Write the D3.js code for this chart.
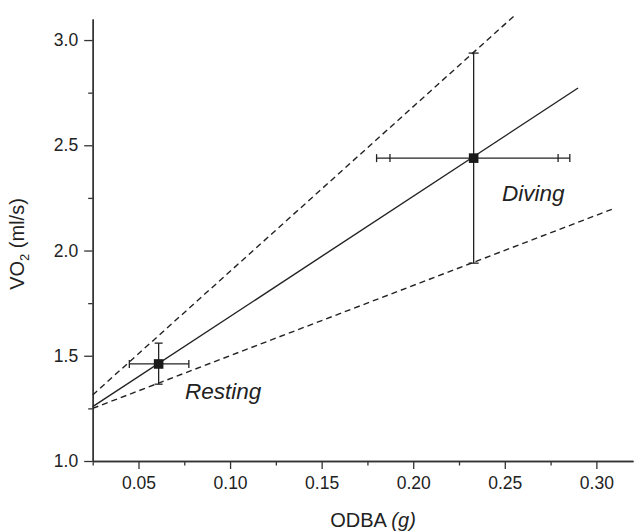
<!DOCTYPE html>
<html>
<head>
<meta charset="utf-8">
<script src="https://cdn.jsdelivr.net/npm/d3@7"></script>
<style>
body { margin: 0; background: #fff; }
svg { display: block; font-family: "Liberation Sans", Arial, sans-serif; }
</style>
</head>
<body>
<svg id="chart" width="640" height="532"></svg>
<script>
// data
var groups = ["Resting", "Diving"];
var odba = [0.061, 0.233];
var vo2 = [1.461, 2.439];
var vo2Low = [1.365, 1.94];
var vo2High = [1.56, 2.938];
var odbaLow = [0.045, 0.180];
var odbaHigh = [0.0775, 0.2855];
var odbaLowInner = [null, 0.1873];
var odbaHighInner = [null, 0.2791];

// regression line and its confidence bounds (start / end)
var fitX = [0.025, 0.29];
var fitY = [1.258, 2.772];
var upperX = [0.025, 0.2564];
var upperY = [1.314, 3.125];
var lowerX = [0.025, 0.31];
var lowerY = [1.25, 2.201];

var xMajor = [0.05, 0.10, 0.15, 0.20, 0.25, 0.30];
var xMinor = [0.025, 0.075, 0.125, 0.175, 0.225, 0.275];
var yMajor = [1.0, 1.5, 2.0, 2.5, 3.0];
var yMinor = [1.25, 1.75, 2.25, 2.75];

var svg = d3.select("#chart");
var mLeft = 92.7, mRight = 633, mTop = 19, mBottom = 461;
var ink = "#222";

var x = d3.scaleLinear().domain([0.025, 0.32]).range([mLeft, mRight]);
var y = d3.scaleLinear().domain([1.0, 3.1]).range([mBottom, mTop]);

// axes
var gx = svg.append("g").attr("transform", "translate(0," + mBottom + ")");
gx.call(d3.axisBottom(x).tickValues(xMajor).tickFormat(d3.format(".2f")).tickSize(8).tickSizeOuter(0).tickPadding(8));
gx.append("g").call(d3.axisBottom(x).tickValues(xMinor).tickFormat("").tickSize(4.5).tickSizeOuter(0));

var gy = svg.append("g").attr("transform", "translate(" + mLeft + ",0)");
gy.call(d3.axisLeft(y).tickValues(yMajor).tickFormat(d3.format(".1f")).tickSize(8.5).tickSizeOuter(0).tickPadding(6));
gy.append("g").call(d3.axisLeft(y).tickValues(yMinor).tickFormat("").tickSize(4.5).tickSizeOuter(0));

svg.selectAll(".domain").attr("stroke", "#333").attr("stroke-width", 1.4);
svg.selectAll(".tick line").attr("stroke", "#333").attr("stroke-width", 1.3);
svg.selectAll(".tick text").attr("font-size", 17.5).attr("fill", ink)
	.attr("font-family", "'Liberation Sans', Arial, sans-serif");

// axis titles
var xt = svg.append("text").attr("x", 373).attr("y", 526.5).attr("text-anchor", "middle")
	.attr("font-size", 20).attr("fill", ink);
xt.append("tspan").text("ODBA ");
xt.append("tspan").attr("font-style", "italic").text("(g)");

var yt = svg.append("text").attr("transform", "translate(24,244) rotate(-90)")
	.attr("text-anchor", "middle").attr("font-size", 20).attr("fill", ink);
yt.append("tspan").text("VO");
yt.append("tspan").attr("font-size", 13).attr("dy", 5).text("2");
yt.append("tspan").attr("dy", -5).text(" (ml/s)");

// lines
function segment(xs, ys, dash) {
	svg.append("line")
		.attr("x1", x(xs[0])).attr("y1", y(ys[0]))
		.attr("x2", x(xs[1])).attr("y2", y(ys[1]))
		.attr("stroke", ink).attr("stroke-width", 1.4)
		.attr("stroke-dasharray", dash);
}
segment(fitX, fitY, null);
segment(upperX, upperY, "6,4");
segment(lowerX, lowerY, "6,4");

// error bars
var eb = svg.append("g").attr("stroke", ink).attr("stroke-width", 1.3);
for (let i = 0; i < groups.length; i++) {
	let cx = x(odba[i]), cy = y(vo2[i]);
	let cw = i == 0 ? 4 : 5;
	eb.append("line").attr("x1", cx).attr("x2", cx).attr("y1", y(vo2Low[i])).attr("y2", y(vo2High[i]));
	eb.append("line").attr("x1", cx - cw).attr("x2", cx + cw).attr("y1", y(vo2Low[i])).attr("y2", y(vo2Low[i]));
	eb.append("line").attr("x1", cx - cw).attr("x2", cx + cw).attr("y1", y(vo2High[i])).attr("y2", y(vo2High[i]));
	eb.append("line").attr("x1", x(odbaLow[i])).attr("x2", x(odbaHigh[i])).attr("y1", cy).attr("y2", cy);
	[odbaLow[i], odbaHigh[i], odbaLowInner[i], odbaHighInner[i]].forEach(function (v) {
		if (v == null) return;
		eb.append("line").attr("x1", x(v)).attr("x2", x(v)).attr("y1", cy - 4).attr("y2", cy + 4);
	});
}

// points
svg.selectAll("rect.pt")
	.data(groups)
	.enter()
	.append("rect")
	.attr("class", "pt")
	.attr("x", function (d, i) { return x(odba[i]) - 4.8; })
	.attr("y", function (d, i) { return y(vo2[i]) - 4.8; })
	.attr("width", 9.6).attr("height", 9.6)
	.attr("fill", "#1a1a1a");

// group labels
svg.append("text").attr("x", 185).attr("y", 399.3).attr("font-size", 22.5)
	.attr("font-style", "italic").attr("fill", ink).text("Resting");
svg.append("text").attr("x", 502).attr("y", 201).attr("font-size", 22.5)
	.attr("font-style", "italic").attr("fill", ink).text("Diving");
</script>
</body>
</html>
